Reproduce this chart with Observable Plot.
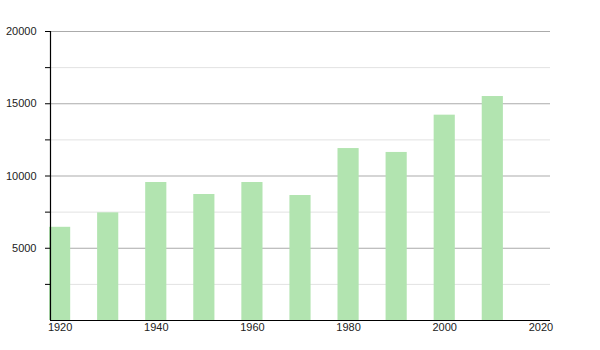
<!DOCTYPE html>
<html>
<head>
<meta charset="utf-8">
<script src="https://cdn.jsdelivr.net/npm/d3@7"></script>
<script src="https://cdn.jsdelivr.net/npm/@observablehq/plot@0.6"></script>
<style>
  html, body { margin: 0; padding: 0; background: #fff; }
  #chart svg { display: block; }
</style>
</head>
<body>
<div id="chart"></div>
<script>
const years = [1920, 1930, 1940, 1950, 1960, 1970, 1980, 1990, 2000, 2010];
const population = [6450, 7450, 9550, 8720, 9550, 8650, 11900, 11630, 14210, 15500];
const yMajorTicks = [5000, 10000, 15000, 20000];
const yMinorTicks = [2500, 7500, 12500, 17500];
const xTicks = [1920, 1940, 1960, 1980, 2000, 2020];
const xDomain = [1918, 2022];
const yDomain = [0, 20000];
const barHalfWidth = 2.2;

const data = years.map((y, i) => ({year: y, pop: population[i]}));
const allYTicks = [...yMinorTicks, ...yMajorTicks].sort((a, b) => a - b);

const chart = Plot.plot({
  width: 600,
  height: 350,
  marginLeft: 50,
  marginRight: 50,
  marginTop: 31,
  marginBottom: 30,
  style: {fontFamily: "'Liberation Sans', Arial, sans-serif", fontSize: "11px", color: "#222", background: "#fff"},
  x: {domain: xDomain},
  y: {domain: yDomain},
  marks: [
    Plot.ruleY(yMinorTicks, {stroke: "#e2e2e2", strokeWidth: 1}),
    Plot.ruleY(yMajorTicks, {stroke: "#ababab", strokeWidth: 1}),
    Plot.rectY(data, {x1: d => d.year - barHalfWidth, x2: d => d.year + barHalfWidth, y: "pop", fill: "#b2e4b0"}),
    Plot.ruleY([yDomain[0]], {stroke: "#000", strokeWidth: 1.2}),
    Plot.ruleX([xDomain[0]], {stroke: "#000", strokeWidth: 1.2}),
    Plot.axisY(allYTicks, {tickSize: 5, tickPadding: 9, stroke: "#000", tickFormat: d => yMajorTicks.includes(d) ? String(d) : "", label: null}),
    Plot.axisX(xTicks, {tickSize: 0, tickPadding: 3, tickFormat: d => String(d), label: null})
  ]
});
document.getElementById("chart").appendChild(chart);
</script>
</body>
</html>
